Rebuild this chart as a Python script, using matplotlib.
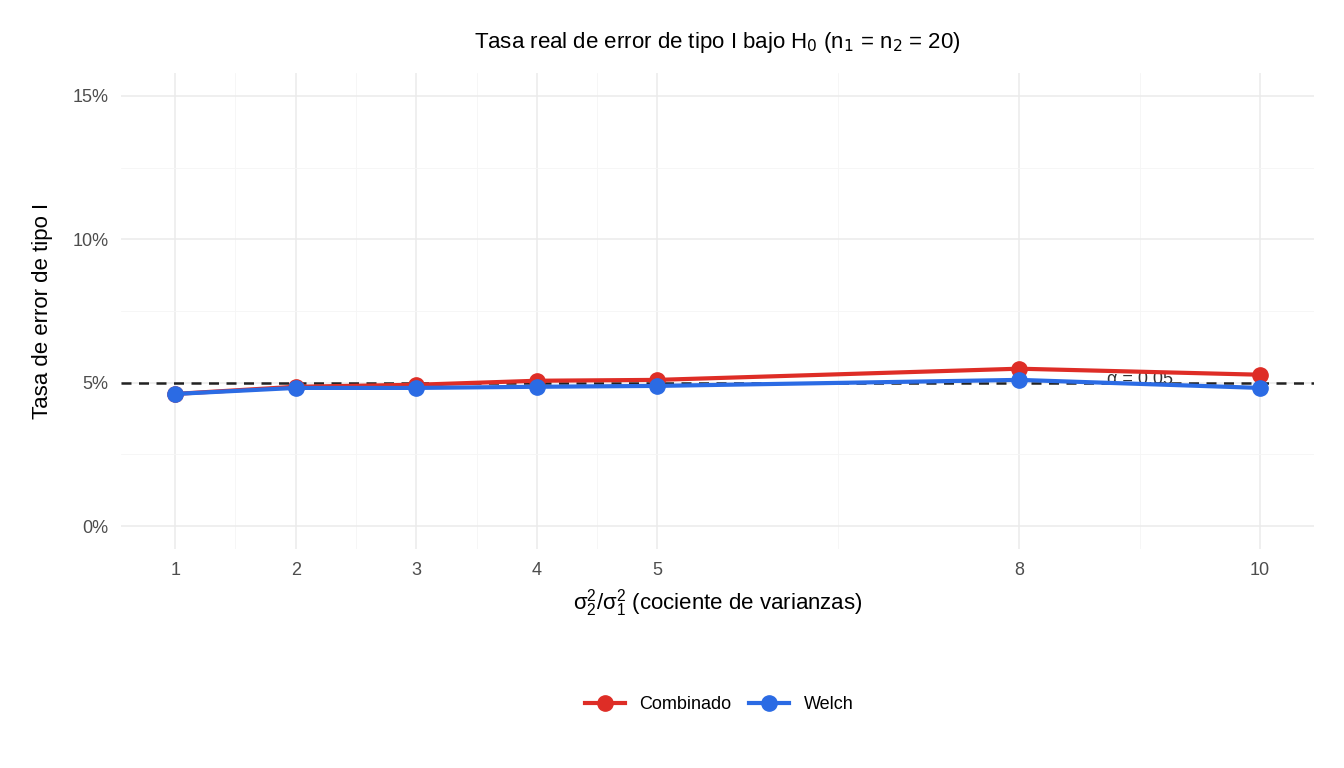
import matplotlib
matplotlib.use("Agg")
import matplotlib.pyplot as plt
from matplotlib.ticker import FuncFormatter

ratios = [1, 2, 3, 4, 5, 8, 10]
combinado = [4.61, 4.86, 4.93, 5.07, 5.10, 5.49, 5.28]
welch = [4.61, 4.82, 4.82, 4.86, 4.89, 5.10, 4.82]
alpha = 5.0

plt.rcParams['font.family'] = ['Liberation Sans', 'DejaVu Sans']
plt.rcParams['mathtext.fontset'] = 'dejavusans'
fig = plt.figure(figsize=(13.44, 7.68), dpi=100)
ax = fig.add_axes([0.09, 0.285, 0.888, 0.62])
for s in ax.spines.values():
    s.set_visible(False)
ax.set_xlim(0.55, 10.45)
ax.set_ylim(-0.8, 15.8)
ax.set_xticks(ratios)
ax.set_xticks([1.5, 2.5, 3.5, 4.5, 6.5, 9], minor=True)
ax.set_yticks([0, 5, 10, 15])
ax.set_yticks([2.5, 7.5, 12.5], minor=True)
ax.yaxis.set_major_formatter(FuncFormatter(lambda v, p: f"{v:.0f}%"))
ax.grid(which='major', color='#ebebeb', lw=1.1)
ax.grid(which='minor', color='#f5f5f5', lw=0.6)
ax.tick_params(which='both', length=0, labelsize=13, labelcolor='#4d4d4d', pad=9)
ax.set_axisbelow(True)

ax.axhline(alpha, color='#222222', ls=(0, (4, 3)), lw=1.8, zorder=2)
ax.text(9.0, alpha + 0.1, "α = 0.05", fontsize=13, color='#333333', ha='center', va='center', zorder=1)
ax.plot(ratios, combinado, '-o', color='#de2d26', lw=3, ms=11, label='Combinado', zorder=3)
ax.plot(ratios, welch, '-o', color='#2b6be4', lw=3, ms=11, label='Welch', zorder=4)

ax.set_title(r"Tasa real de error de tipo I bajo H$_0$ (n$_1$ = n$_2$ = 20)", fontsize=16, pad=18)
ax.set_xlabel(r"$\mathregular{\sigma_2^2/\sigma_1^2}$ (cociente de varianzas)", fontsize=16, labelpad=6)
ax.set_ylabel("Tasa de error de tipo I", fontsize=16, labelpad=14)
fig.legend(loc='lower center', bbox_to_anchor=(0.535, 0.05), ncol=2, frameon=False,
           fontsize=13, handlelength=2.2, columnspacing=1.0)
fig.savefig("out.png", dpi=100, facecolor='white')
